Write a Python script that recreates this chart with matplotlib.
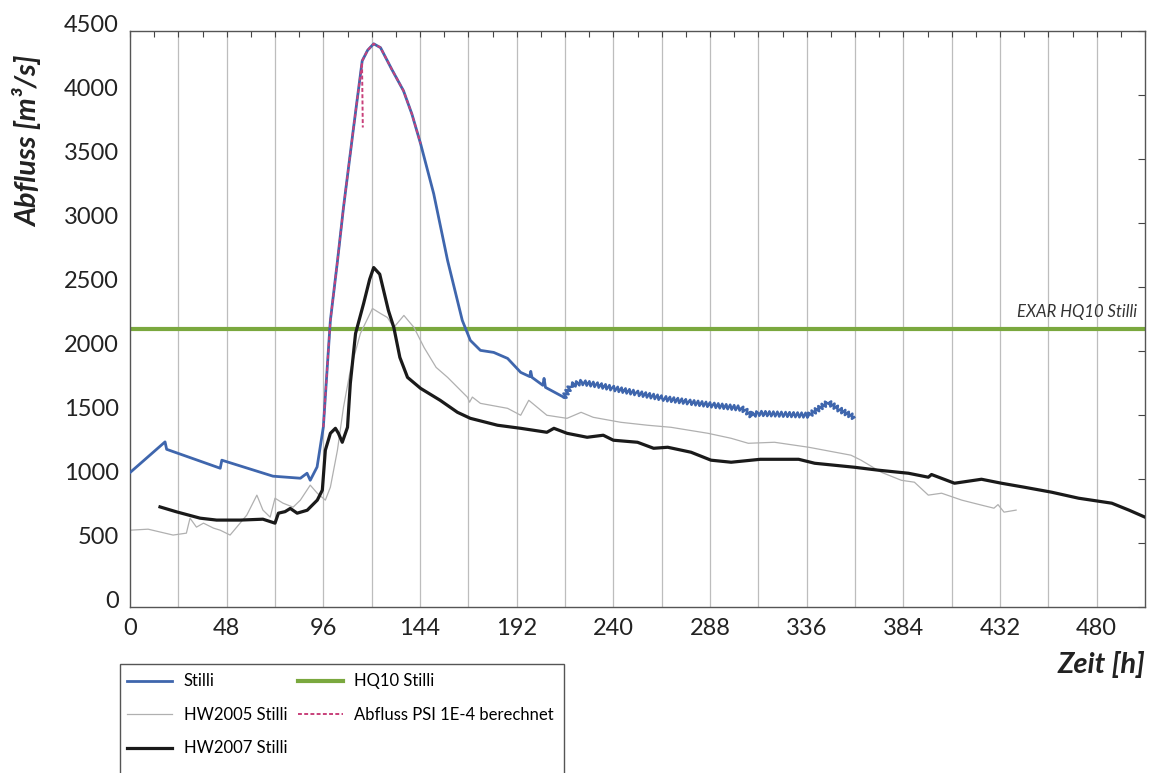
import numpy as np
import matplotlib
matplotlib.use("Agg")
import matplotlib.pyplot as plt
from matplotlib.transforms import ScaledTranslation
from matplotlib.patches import Rectangle

# ---------------- data ----------------
stilli_x = [0, 17.4, 18.2, 44.8, 45.6, 71, 84.6, 87.9, 89.5, 92.9, 96, 98.5, 99.5, 103, 106,
            111, 115.3, 118, 121, 124.4, 130, 135.8, 140, 144.3, 150.8, 157.7, 165, 169, 174, 180.6,
            187.5, 194, 198.5, 199, 199.6, 205, 205.6, 206.3, 215.5]
stilli_y = [1050, 1290, 1232, 1084, 1147, 1022, 1006, 1045, 990, 1094, 1406, 2005, 2239, 2700, 3120,
            3744, 4267, 4350, 4400, 4370, 4200, 4033, 3850, 3619, 3229, 2707, 2239, 2083, 2005, 1989,
            1942, 1833, 1800, 1841, 1794, 1732, 1786, 1716, 1638]
# later part of the Stilli record (oscillating data, drawn with wiggle style)
stilli2_x = [215.5, 219, 224, 232, 240, 252, 265, 278, 290, 303.5, 306, 308.4, 312, 325, 337, 342,
             346.7, 352, 359.6]
stilli2_y = [1638, 1732, 1755, 1735, 1708, 1670, 1630, 1600, 1576, 1552, 1530, 1498, 1513, 1505, 1498,
             1550, 1599, 1545, 1482]

hw2005_x = [0, 9, 21.4, 28, 29.8, 33, 36.5, 41.5, 44.8, 49.7, 53, 58, 63, 66, 69.6, 72, 76, 81,
            84.6, 89.5, 93, 97, 99.5, 103, 106, 109.4, 114.4, 120.4, 124.4, 127.8, 131, 136, 141,
            146, 152, 157.7, 167.6, 168.6, 170, 174, 187.5, 194, 198, 204, 207, 217, 224, 230,
            243.7, 257, 268.6, 287, 298.5, 307, 320, 337, 358, 363, 373, 383, 389.5, 396.4, 403,
            413, 422.8, 429, 431, 434, 440]
hw2005_y = [600, 608, 562, 577, 694, 624, 655, 616, 600, 562, 624, 718, 874, 757, 702, 850, 811, 780,
            835, 952, 889, 835, 936, 1225, 1560, 1849, 2137, 2332, 2293, 2262, 2184, 2278, 2184,
            2028, 1872, 1794, 1638, 1600, 1640, 1591, 1552, 1498, 1615, 1537, 1498, 1474, 1521, 1482,
            1443, 1420, 1404, 1357, 1318, 1279, 1287, 1248, 1186, 1147, 1053, 990, 975, 874, 889,
            835, 796, 772, 800, 741, 757]

hw2007_x = [14.9, 23.2, 34.8, 43, 54.7, 66, 72, 73.7, 77, 79.6, 83, 88, 93, 95.5, 97, 99.5, 102,
            103.5, 105.4, 108, 109.4, 112, 116, 119, 121, 124, 128.3, 131, 134, 137.8, 144.3, 154, 162.6,
            169, 182.5, 194, 207, 210.5, 217, 227, 235, 240, 252, 260, 267, 278.6, 288.5, 298.5, 313,
            332, 340, 359.6, 371.5, 386.5, 396.4, 398, 409.4, 422.8, 432.7, 444, 457.6, 471, 487.5,
            496, 504]
hw2007_y = [782, 743, 694, 679, 679, 686, 655, 733, 745, 770, 733, 756, 835, 913, 1225, 1357, 1396,
            1357, 1287, 1404, 1747, 2137, 2371, 2560, 2652, 2600, 2317, 2184, 1950, 1794, 1708, 1615, 1521,
            1474, 1420, 1396, 1365, 1396, 1357, 1326, 1342, 1303, 1287, 1240, 1248, 1209, 1147, 1131,
            1154, 1154, 1123, 1092, 1069, 1045, 1014, 1035, 967, 998, 967, 936, 897, 850, 811,
            757, 702]

psi_x = [96, 98.5, 99.5, 103, 106, 111, 115.2, 115.4, 115.6, np.nan, 115.3, 118, 121, 124.4, 130,
         135.8, 140, 144.3]
psi_y = [1406, 2005, 2239, 2700, 3120, 3744, 4253, 4000, 3746, np.nan, 4267, 4350, 4400, 4370, 4200,
         4033, 3850, 3619]

hq10_value = 2170

xticks = [0, 48, 96, 144, 192, 240, 288, 336, 384, 432, 480]
yticks = [0, 500, 1000, 1500, 2000, 2500, 3000, 3500, 4000, 4500]

# ---------------- figure ----------------
plt.rcParams['font.family'] = ['Lato', 'DejaVu Sans']
W, H = 1153, 773
fig = plt.figure(figsize=(W / 100, H / 100), dpi=100)
ax = fig.add_axes([130 / W, 1 - 607 / H, (1145 - 130) / W, (607 - 31) / H])

ax.set_xlim(0, 504)
ax.set_ylim(0, 4500)

# grid
for gx in range(24, 504, 24):
    ax.axvline(gx, color='#bdbdbd', lw=0.9, zorder=0)

blue = '#3f66ad'
l_stilli, = ax.plot(stilli_x, stilli_y, color=blue, lw=2.0, zorder=4, label='Stilli')
l_s2, = ax.plot(stilli2_x, stilli2_y, color=blue, lw=1.8, zorder=4)
l_s2.set_sketch_params(scale=2.4, length=4.0, randomness=1.0)
l_2005, = ax.plot(hw2005_x, hw2005_y, color='#b0b0b0', lw=0.9, zorder=2, label='HW2005 Stilli')
l_2007, = ax.plot(hw2007_x, hw2007_y, color='#1a1a1a', lw=2.3, zorder=3, label='HW2007 Stilli')
l_hq, = ax.plot([0, 504], [hq10_value, hq10_value], color='#7aa83e', lw=3.0, zorder=1,
                label='HQ10 Stilli')
l_psi, = ax.plot(psi_x, psi_y, color='#c8407a', lw=1.4, ls=(0, (2, 1.2)), zorder=5,
                 label='Abfluss PSI 1E-4 berechnet')

ax.text(500, 2308, 'EXAR HQ10 Stilli', ha='right', va='center', fontsize=12,
        style='italic', color='#333333')

# ticks
ax.set_xticks(xticks)
ax.set_yticks(yticks)
ax.tick_params(axis='both', which='both', length=0, labelsize=17, colors='#222222')
ax.tick_params(axis='x', pad=8)
ax.tick_params(axis='y', pad=8)
off = ScaledTranslation(0, 7 / 100, fig.dpi_scale_trans)
for lab in ax.get_yticklabels():
    lab.set_transform(lab.get_transform() + off)

# small ticks on top (12 h) and on right (500)
ax2 = ax.secondary_xaxis('top')
ax2.set_xticks(np.arange(0, 505, 12))
ax2.tick_params(direction='in', length=4, width=0.8, labeltop=False, colors='#444444')
ax2.spines['top'].set_visible(False)
ax3 = ax.secondary_yaxis('right')
ax3.set_yticks(yticks)
ax3.tick_params(direction='in', length=5, width=0.8, labelright=False, colors='#444444')
ax3.spines['right'].set_visible(False)

for sp in ax.spines.values():
    sp.set_color('#555555')
    sp.set_linewidth(1.0)

fig.text(28 / W, 1 - 141 / H, 'Abfluss [m³/s]', rotation=90, ha='center', va='center',
         fontsize=21, fontweight='bold', style='italic', color='#222222')
fig.text(1145 / W, 1 - 665 / H, 'Zeit [h]', ha='right', va='center',
         fontsize=21, fontweight='bold', style='italic', color='#222222')

# legend frame (extends below the figure edge as in the reference)
fig.patches.append(Rectangle((120 / W, -0.05), (564 - 120) / W, (1 - 664 / H) + 0.05,
                             transform=fig.transFigure, fill=False, edgecolor='#555555',
                             lw=1.0, zorder=10))
handles = [l_stilli, l_2005, l_2007, l_hq, l_psi]
leg = fig.legend(handles=handles, labels=[h.get_label() for h in handles], ncol=2,
                 loc='upper left', bbox_to_anchor=(124 / W, 1 - 670 / H),
                 fontsize=12, frameon=False,
                 handlelength=2.7, handletextpad=0.7, columnspacing=0.6,
                 labelspacing=1.05, borderpad=0.2, borderaxespad=0)

fig.savefig('out.png', dpi=100)
